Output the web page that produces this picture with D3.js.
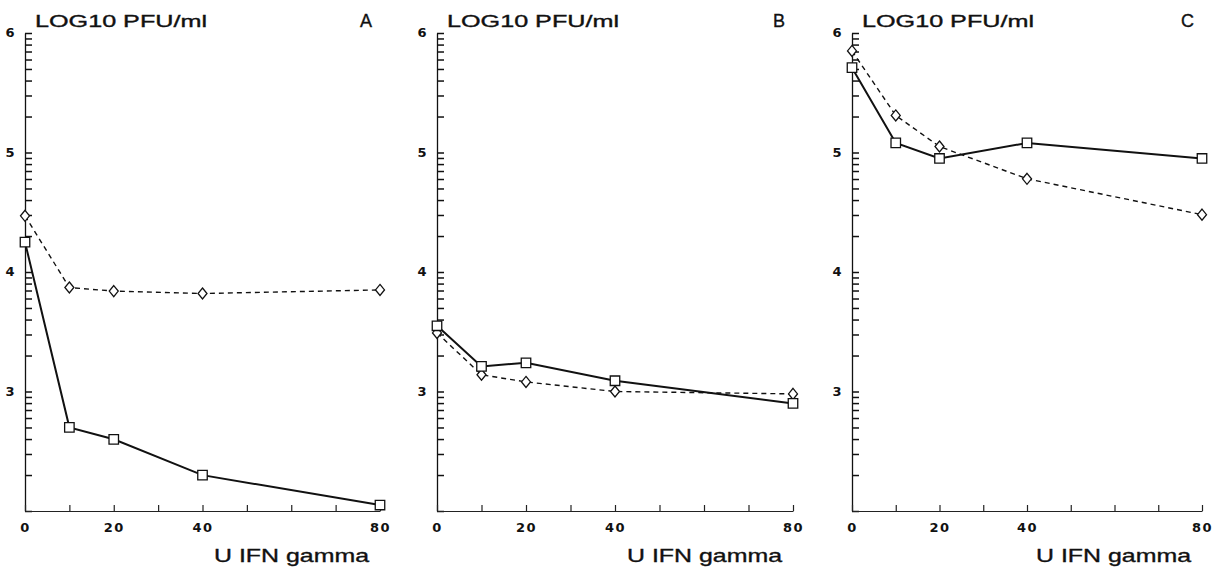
<!DOCTYPE html>
<html>
<head>
<meta charset="utf-8">
<script src="https://cdn.jsdelivr.net/npm/d3@7"></script>
<style>
  body { margin: 0; background: #fff; }
  text { font-family: "Liberation Sans", Arial, sans-serif; fill: #111; }
  .tick text { font-family: "DejaVu Sans", sans-serif; font-weight: bold; font-size: 13px; letter-spacing: 1.5px; }
  .title { stroke: #111; stroke-width: 0.35px; }
</style>
</head>
<body>
<svg id="chart" width="1218" height="572"></svg>
<script>
// IFN gamma doses (U)
var doses = [0, 10, 20, 40, 80];
var panelNames = ["A", "B", "C"];

// log10 PFU/ml, solid line with squares
var squaresA = [4.25, 2.70, 2.60, 2.30, 2.05];
var squaresB = [3.55, 3.21, 3.24, 3.09, 2.90];
var squaresC = [5.71, 5.08, 4.95, 5.08, 4.95];

// log10 PFU/ml, dashed line with diamonds
var diamondsA = [4.47, 3.87, 3.84, 3.82, 3.85];
var diamondsB = [3.49, 3.14, 3.08, 3.00, 2.98];
var diamondsC = [5.85, 5.31, 5.05, 4.78, 4.48];

var xTicks = [0, 10, 20, 30, 40, 50, 60, 70, 80];
var xTickLabels = [0, 20, 40, 80];
var yTickLabels = [3, 4, 5, 6];
var yTitle = "LOG10 PFU/ml";
var xTitle = "U IFN gamma";

var svg = d3.select("#chart");

// panel left edge (x = 0) and width
var panels = [
  { left: 25,  width: 355, sq: squaresA, di: diamondsA },
  { left: 437, width: 356, sq: squaresB, di: diamondsB },
  { left: 852, width: 350, sq: squaresC, di: diamondsC }
];

var y = d3.scaleLog()
  .domain([1e2, 1e6])
  .range([511, 33]);

var diamondPath = "M0,-5.5L4.5,0L0,5.5L-4.5,0Z";

panels.forEach(function (p, i) {
  var x = d3.scaleLinear()
    .domain([0, 80])
    .range([p.left, p.left + p.width]);

  var g = svg.append("g");

  // y axis, log minor ticks pointing inward
  var yAxis = d3.axisLeft(y)
    .tickValues(y.ticks(20))
    .tickSizeInner(-7)
    .tickSizeOuter(0)
    .tickPadding(9)
    .tickFormat(function (d) {
      var e = Math.round(Math.log10(d));
      if (Math.abs(Math.log10(d) - e) < 1e-9 && yTickLabels.indexOf(e) >= 0) return e;
      return "";
    });

  var ya = g.append("g")
    .attr("transform", "translate(" + p.left + ",0)")
    .call(yAxis);
  ya.attr("font-family", null).attr("font-size", null);
  ya.select(".domain").attr("stroke", "#111").attr("stroke-width", 1.3);
  ya.selectAll(".tick line").attr("stroke", "#111").attr("stroke-width", 1.5);
  ya.selectAll("text").attr("dy", "0.3em");

  // x axis, ticks pointing upward
  var xAxis = d3.axisBottom(x)
    .tickValues(xTicks)
    .tickSizeInner(-6)
    .tickSizeOuter(0)
    .tickPadding(12)
    .tickFormat(function (d) { return xTickLabels.indexOf(d) >= 0 ? d : ""; });

  var xa = g.append("g")
    .attr("transform", "translate(0," + y(1e2) + ")")
    .call(xAxis);
  xa.attr("font-family", null).attr("font-size", null);
  xa.selectAll("path, line").attr("stroke", "#222").attr("stroke-width", 1.2);
  xa.selectAll("text").attr("dy", "0.71em");

  // titles
  g.append("text")
    .attr("class", "title")
    .attr("x", p.left + 10)
    .attr("y", 27)
    .attr("font-size", 17)
    .attr("textLength", 172)
    .attr("lengthAdjust", "spacingAndGlyphs")
    .text(yTitle);

  g.append("text")
    .attr("class", "title")
    .attr("x", p.left + p.width - 8)
    .attr("y", 27)
    .attr("font-size", 18)
    .attr("text-anchor", "end")
    .text(panelNames[i]);

  g.append("text")
    .attr("class", "title")
    .attr("x", p.left + p.width - 166)
    .attr("y", 562)
    .attr("font-size", 19)
    .attr("textLength", 155)
    .attr("lengthAdjust", "spacingAndGlyphs")
    .text(xTitle);

  var line = d3.line()
    .x(function (d, j) { return x(doses[j]); })
    .y(function (d) { return y(Math.pow(10, d)); });

  g.append("path")
    .datum(p.di)
    .attr("d", line)
    .attr("fill", "none")
    .attr("stroke", "#111")
    .attr("stroke-width", 1.4)
    .attr("stroke-dasharray", "5,4");

  g.append("path")
    .datum(p.sq)
    .attr("d", line)
    .attr("fill", "none")
    .attr("stroke", "#111")
    .attr("stroke-width", 2);

  g.selectAll(".diamond")
    .data(p.di)
    .enter()
    .append("path")
    .attr("class", "diamond")
    .attr("d", diamondPath)
    .attr("transform", function (d, j) {
      return "translate(" + x(doses[j]) + "," + y(Math.pow(10, d)) + ")";
    })
    .attr("fill", "#fff")
    .attr("stroke", "#111")
    .attr("stroke-width", 1.3);

  g.selectAll(".square")
    .data(p.sq)
    .enter()
    .append("path")
    .attr("class", "square")
    .attr("d", d3.symbol().type(d3.symbolSquare).size(90))
    .attr("transform", function (d, j) {
      return "translate(" + x(doses[j]) + "," + y(Math.pow(10, d)) + ")";
    })
    .attr("fill", "#fff")
    .attr("stroke", "#111")
    .attr("stroke-width", 1.3);
});
</script>
</body>
</html>
